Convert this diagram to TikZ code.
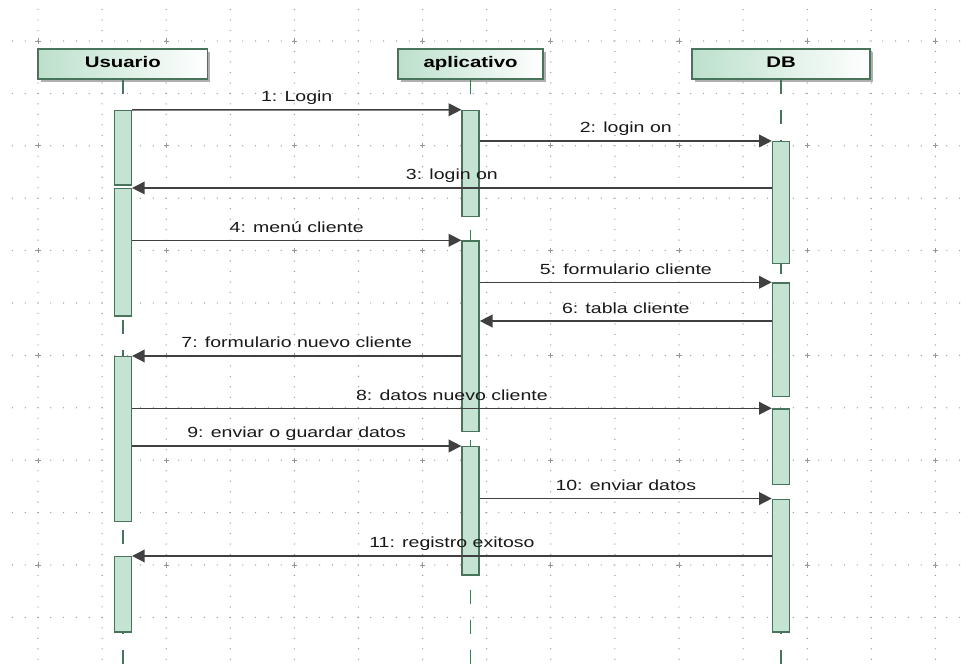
\documentclass[tikz,border=0pt]{standalone}
\usepackage{fontspec}
\setmainfont{Liberation Sans}
\usepackage{graphicx}
\usetikzlibrary{arrows.meta}
\definecolor{dotc}{RGB}{150,150,150}
\definecolor{barfill}{RGB}{196,227,211}
\definecolor{barline}{RGB}{72,116,92}
\definecolor{headleft}{RGB}{188,224,204}
\definecolor{msgc}{RGB}{64,64,64}
\definecolor{shadowc}{RGB}{175,175,175}
\definecolor{txtc}{RGB}{25,25,25}
\newcommand{\hs}[1]{\scalebox{1.33}[1]{#1}}
\newcommand{\actbar}[4]{\node[actbox, minimum height={(#4-#3)*0.75pt}] (#1) at (#2,{(#3+#4)/2}) {};}
\tikzset{
  headbox/.style={draw=barline, line width=1.3pt, left color=headleft, right color=white,
    minimum height=22pt, inner sep=0pt, text=black,
    font=\fontsize{11.5}{13}\selectfont\bfseries, text height=8.3pt, text depth=3.5pt,
    preaction={fill=shadowc, transform canvas={shift={(2.2pt,-2.2pt)}}}},
  actbox/.style={draw=barline, fill=barfill, line width=1.1pt, minimum width=12.75pt, inner sep=0pt},
  lifeline/.style={draw=barline, line width=1.1pt, dash pattern=on 10.5pt off 12pt},
  msg/.style={draw=msgc, line width=1.1pt, -{Triangle[length=9.5pt,width=9.5pt]}},
  lbl/.style={anchor=base, yshift=6pt, inner sep=0pt, text=txtc, font=\fontsize{11}{13}\selectfont},
  griddot/.style={fill=dotc},
  gridplus/.style={draw=dotc, line width=0.6pt}
}
\begin{document}
\begin{tikzpicture}[x=0.75pt,y=-0.75pt]
\useasboundingbox (0,0) rectangle (970,664);
\fill[white] (0,0) rectangle (970,664);
% dotted grid
\foreach \r in {0,...,11}{
  \foreach \c in {0,...,75}{
    \fill[griddot] ({12.4+12.8*\c},{41+52.4*\r}) circle (0.5pt);
  }
}
\foreach \c in {0,...,14}{
  \foreach \r in {0,...,62}{
    \fill[griddot] ({38+64.1*\c},{9.56+10.48*\r}) circle (0.5pt);
  }
}
\foreach \c in {0,...,7}{
  \foreach \r in {0,...,5}{
    \draw[gridplus] ({38+128.2*\c-2.6},{41+104.8*\r}) -- ++(5.2,0);
    \draw[gridplus] ({38+128.2*\c},{41+104.8*\r-2.6}) -- ++(0,5.2);
  }
}
\coordinate (bot) at (0,666);
% heads
\node[headbox, minimum width=127pt] (hu) at (122.8,64) {\hs{Usuario}};
\node[headbox, minimum width=108.6pt] (ha) at (470.6,64) {\hs{aplicativo}};
\node[headbox, minimum width=133pt] (hd) at (781,64) {\hs{DB}};
% lifelines
\draw[lifeline] (hu.south) -- (hu.south |- bot);
\draw[lifeline] (ha.south) -- (ha.south |- bot);
\draw[lifeline] (hd.south) -- (hd.south |- bot);
% activation bars
\actbar{u1}{122.8}{110.5}{185}
\actbar{u2}{122.8}{188.7}{316}
\actbar{u3}{122.8}{356.7}{521.7}
\actbar{u4}{122.8}{556.7}{632}
\actbar{a1}{470.6}{110.5}{216.7}
\actbar{a2}{470.6}{241}{431.7}
\actbar{a3}{470.6}{446.7}{575}
\actbar{d1}{781}{141.7}{263.5}
\actbar{d2}{781}{283}{396.5}
\actbar{d3}{781}{409}{484.5}
\actbar{d4}{781}{499.3}{632}
% messages
\coordinate (m6) at (0,321);
\draw[msg] (u1.north east) -- node[lbl]{\hs{1: Login}} (a1.north west);
\draw[msg] (a1.east |- d1.north west) -- node[lbl]{\hs{2: login on}} (d1.north west);
\draw[msg] (d1.west |- u2.north east) -- node[lbl]{\hs{3: login on}} (u2.north east);
\draw[msg] (u2.east |- a2.north west) -- node[lbl]{\hs{4: menú cliente}} (a2.north west);
\draw[msg] (a2.east |- d2.north west) -- node[lbl]{\hs{5: formulario cliente}} (d2.north west);
\draw[msg] (d2.west |- m6) -- node[lbl]{\hs{6: tabla cliente}} (a2.east |- m6);
\draw[msg] (a2.west |- u3.north east) -- node[lbl]{\hs{7: formulario nuevo cliente}} (u3.north east);
\draw[msg] (u3.east |- d3.north west) -- node[lbl]{\hs{8: datos nuevo cliente}} (d3.north west);
\draw[msg] (u3.east |- a3.north west) -- node[lbl]{\hs{9: enviar o guardar datos}} (a3.north west);
\draw[msg] (a3.east |- d4.north west) -- node[lbl]{\hs{10: enviar datos}} (d4.north west);
\draw[msg] (d4.west |- u4.north east) -- node[lbl]{\hs{11: registro exitoso}} (u4.north east);
\end{tikzpicture}
\end{document}
